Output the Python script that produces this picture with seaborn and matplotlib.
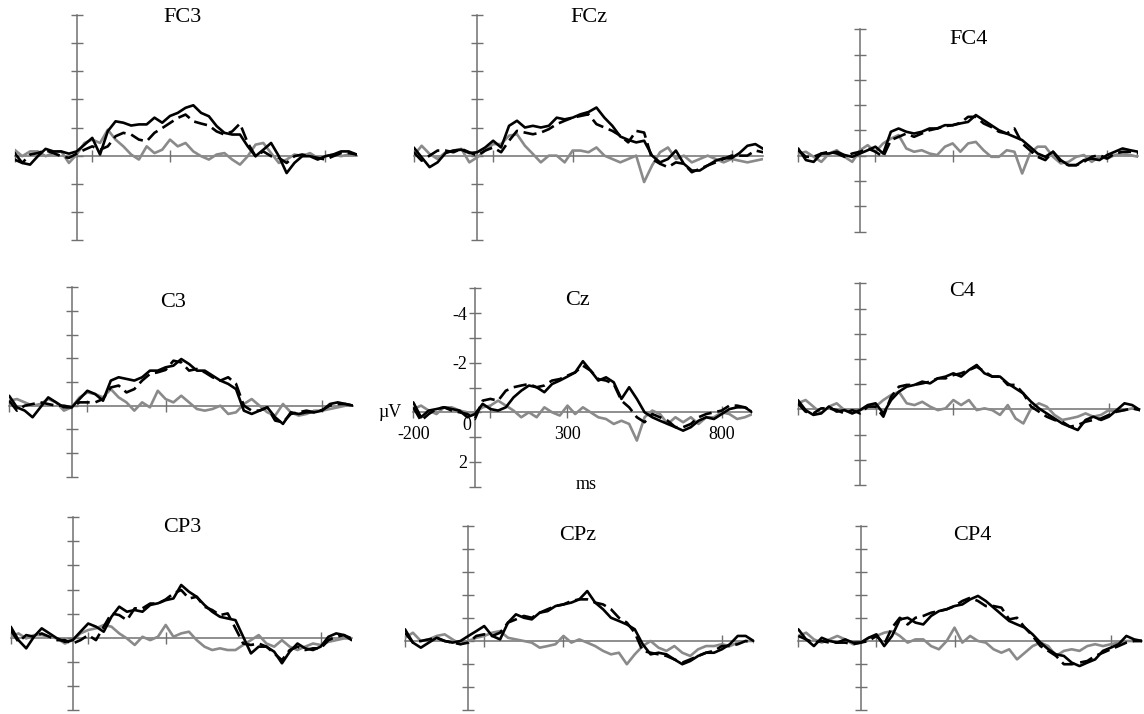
import matplotlib
matplotlib.use("Agg")
import matplotlib.pyplot as plt
import numpy as np
import pandas as pd
import seaborn as sns

# ---------------- data (µV, negative plotted upward) ----------------
times = list(range(-200, 901, 25))
electrodes = ["FC3", "FCz", "FC4", "C3", "Cz", "C4", "CP3", "CPz", "CP4"]

fc3_solid = [-0.10, 0.26, 0.32, 0.02, -0.24, -0.15, -0.15, -0.07, -0.15, -0.39, -0.63, -0.04, -0.87, -1.22, -1.17, -1.07, -1.11, -1.11, -1.35, -1.17, -1.41, -1.52, -1.70, -1.79, -1.52, -1.40, -1.05, -0.81, -0.75, -0.75, -0.33, 0.02, -0.21, -0.45, 0.02, 0.62, 0.26, 0.02, 0.02, 0.14, 0.02, -0.04, -0.15, -0.15, -0.04]
fc3_dashed = [0.14, 0.26, -0.04, -0.09, -0.19, -0.09, 0.02, 0.08, -0.07, -0.21, -0.33, -0.21, -0.33, -0.69, -0.81, -0.75, -0.57, -0.51, -0.81, -0.98, -1.16, -1.34, -1.46, -1.22, -1.14, -1.07, -0.86, -0.75, -0.86, -1.14, -0.45, 0.02, -0.15, 0.02, 0.08, 0.26, 0.02, -0.04, 0.02, 0.08, 0.14, 0.02, -0.09, -0.09, -0.04]
fc3_gray = [-0.21, 0.02, -0.15, -0.15, 0.02, -0.09, -0.15, 0.26, -0.04, -0.45, -0.57, -0.45, -0.92, -0.57, -0.33, -0.04, 0.14, -0.33, -0.09, -0.21, -0.57, -0.33, -0.45, -0.15, 0.02, 0.14, -0.04, -0.09, 0.14, 0.32, 0.02, -0.39, -0.45, -0.09, 0.26, 0.14, -0.04, 0.02, -0.09, 0.08, 0.02, -0.04, 0.02, -0.04, -0.04]

fcz_solid = [-0.29, 0.06, 0.41, 0.24, -0.09, -0.18, -0.21, -0.09, -0.12, -0.29, -0.53, -0.29, -1.06, -1.24, -1.00, -1.06, -1.00, -1.06, -1.35, -1.29, -1.35, -1.47, -1.55, -1.71, -1.35, -1.06, -0.68, -0.56, -0.47, -0.53, 0.00, 0.24, 0.12, -0.18, 0.29, 0.53, 0.53, 0.35, 0.18, 0.09, 0.09, -0.09, -0.35, -0.41, -0.24]
fcz_dashed = [-0.12, 0.18, 0.00, -0.18, -0.18, -0.12, -0.24, -0.12, 0.00, -0.18, -0.29, -0.12, -0.53, -0.88, -0.82, -0.76, -0.82, -0.94, -1.12, -1.24, -1.35, -1.41, -1.47, -1.12, -1.00, -0.88, -0.71, -0.47, -0.88, -0.82, 0.12, 0.29, 0.41, 0.24, 0.29, 0.59, 0.47, 0.35, 0.24, 0.12, 0.00, 0.00, 0.00, -0.18, -0.12]
fcz_gray = [0.00, -0.35, -0.06, 0.12, -0.12, -0.18, -0.24, 0.24, 0.06, -0.18, -0.41, -0.41, -0.71, -0.76, -0.35, -0.06, 0.24, 0.00, 0.00, 0.24, -0.18, -0.18, -0.12, -0.29, 0.00, 0.12, 0.24, 0.12, 0.00, 0.94, 0.35, -0.12, -0.29, 0.12, 0.00, 0.24, 0.12, 0.00, 0.12, 0.24, 0.12, 0.18, 0.24, 0.18, 0.12]

fc4_solid = [-0.29, 0.17, 0.24, -0.09, -0.09, -0.16, -0.03, 0.04, -0.09, -0.22, -0.36, -0.09, -0.95, -1.08, -0.95, -0.88, -0.95, -1.08, -1.08, -1.21, -1.21, -1.28, -1.34, -1.61, -1.41, -1.21, -1.01, -0.88, -0.75, -0.62, -0.36, -0.09, 0.04, -0.16, 0.17, 0.37, 0.37, 0.17, 0.11, 0.17, -0.03, -0.16, -0.29, -0.22, -0.16]
fc4_dashed = [-0.22, 0.04, 0.04, -0.09, -0.16, -0.09, 0.04, -0.09, -0.16, -0.29, -0.16, 0.04, -0.62, -0.75, -0.88, -0.75, -0.88, -1.01, -1.08, -1.17, -1.21, -1.30, -1.54, -1.54, -1.28, -1.14, -0.95, -0.88, -1.08, -0.49, -0.22, 0.04, 0.17, -0.16, 0.24, 0.37, 0.37, 0.24, 0.04, -0.03, 0.11, -0.09, -0.16, -0.16, -0.09]
fc4_gray = [-0.09, -0.16, 0.04, 0.24, -0.09, -0.22, 0.04, 0.24, -0.22, -0.42, -0.16, -0.49, -0.68, -0.82, -0.29, -0.16, -0.22, -0.09, -0.03, -0.36, -0.49, -0.16, -0.49, -0.55, -0.22, 0.04, 0.04, -0.22, -0.16, 0.70, -0.09, -0.36, -0.36, 0.04, 0.30, 0.24, 0.04, -0.03, 0.24, 0.04, 0.11, -0.03, -0.09, -0.03, 0.04]

c3_solid = [-0.42, 0.07, 0.21, 0.49, 0.07, -0.35, -0.14, 0.07, 0.07, -0.28, -0.63, -0.49, -0.21, -1.06, -1.20, -1.13, -1.06, -1.20, -1.48, -1.48, -1.62, -1.69, -1.97, -1.76, -1.48, -1.48, -1.27, -1.06, -0.92, -0.70, 0.21, 0.35, 0.21, 0.07, 0.49, 0.77, 0.28, 0.35, 0.28, 0.28, 0.21, -0.07, -0.14, -0.07, 0.00]
c3_dashed = [-0.21, 0.21, 0.00, -0.07, -0.14, -0.07, 0.00, 0.00, 0.07, -0.14, -0.14, -0.14, -0.28, -0.77, -0.85, -0.56, -0.70, -1.06, -1.34, -1.41, -1.51, -1.90, -1.83, -1.48, -1.55, -1.41, -1.20, -1.06, -1.20, -0.92, 0.00, 0.21, 0.21, 0.07, 0.63, 0.70, 0.35, 0.28, 0.21, 0.28, 0.18, 0.00, -0.07, -0.07, 0.00]
c3_gray = [-0.21, -0.28, -0.14, 0.00, -0.07, -0.28, -0.14, 0.21, 0.07, -0.35, -0.56, -0.49, -0.35, -0.70, -0.35, -0.14, 0.21, -0.14, 0.07, -0.63, -0.28, -0.14, -0.42, -0.14, 0.14, 0.21, 0.14, 0.00, 0.35, 0.28, -0.07, -0.28, 0.00, 0.28, 0.42, -0.07, 0.28, 0.42, 0.35, 0.21, 0.21, 0.14, 0.07, 0.00, 0.00]

cz_solid = [-0.40, 0.20, -0.07, -0.13, -0.20, -0.13, -0.07, 0.20, 0.07, -0.34, -0.13, -0.07, -0.20, -0.60, -0.87, -1.08, -1.01, -0.81, -1.14, -1.28, -1.44, -1.61, -2.06, -1.68, -1.28, -1.41, -1.21, -0.54, -1.01, -0.54, 0.00, 0.20, 0.34, 0.47, 0.60, 0.74, 0.60, 0.34, 0.20, 0.27, 0.07, -0.13, -0.20, -0.20, 0.00]
cz_dashed = [-0.20, 0.34, 0.07, -0.13, -0.20, -0.07, 0.00, 0.07, 0.27, -0.47, -0.54, -0.47, -0.87, -1.01, -1.08, -1.14, -1.01, -1.08, -1.28, -1.34, -1.48, -1.61, -1.88, -1.68, -1.34, -1.28, -1.14, -0.47, -0.20, 0.20, 0.40, 0.07, 0.20, 0.34, 0.60, 0.60, 0.47, 0.20, 0.07, 0.00, -0.07, -0.27, -0.27, -0.20, -0.07]
cz_gray = [-0.13, -0.27, -0.07, 0.07, -0.20, -0.20, -0.07, 0.00, 0.00, -0.20, -0.27, -0.47, -0.27, -0.07, 0.20, 0.00, 0.20, -0.20, 0.00, 0.13, -0.27, 0.07, -0.20, 0.00, 0.20, 0.27, 0.47, 0.34, 0.47, 1.14, 0.20, -0.07, 0.07, 0.47, 0.20, 0.40, 0.20, 0.47, 0.20, 0.20, 0.00, 0.07, 0.27, 0.20, 0.07]

c4_solid = [-0.37, 0.03, 0.22, 0.16, -0.11, 0.09, 0.03, 0.16, 0.03, -0.17, -0.24, 0.16, -0.37, -0.70, -0.90, -0.97, -1.10, -1.03, -1.23, -1.30, -1.43, -1.30, -1.56, -1.76, -1.43, -1.30, -1.30, -1.03, -0.83, -0.63, -0.30, -0.04, 0.16, 0.36, 0.56, 0.69, 0.82, 0.42, 0.29, 0.42, 0.29, 0.03, -0.24, -0.17, 0.03]
c4_dashed = [-0.24, 0.09, 0.16, -0.04, -0.04, 0.03, 0.16, 0.03, 0.16, -0.11, -0.11, 0.29, -0.50, -0.90, -0.97, -0.97, -1.03, -1.10, -1.23, -1.23, -1.36, -1.43, -1.56, -1.69, -1.50, -1.30, -1.30, -0.97, -0.97, -0.63, -0.11, 0.09, 0.29, 0.42, 0.49, 0.69, 0.62, 0.49, 0.42, 0.36, 0.22, 0.09, 0.03, -0.04, 0.03]
c4_gray = [-0.24, -0.37, -0.11, 0.16, -0.11, -0.24, 0.03, 0.16, 0.03, -0.11, -0.11, -0.37, -0.57, -0.70, -0.24, -0.17, -0.30, -0.11, 0.03, -0.04, -0.37, -0.17, -0.37, 0.03, -0.04, 0.03, 0.22, -0.17, 0.36, 0.56, -0.04, -0.24, -0.11, 0.22, 0.42, 0.36, 0.29, 0.16, 0.29, 0.22, 0.03, 0.09, 0.03, -0.04, 0.03]

cp3_solid = [-0.46, 0.10, 0.44, -0.04, -0.39, -0.18, 0.03, 0.17, 0.10, -0.25, -0.59, -0.46, -0.25, -0.87, -1.29, -1.08, -1.15, -1.08, -1.36, -1.43, -1.56, -1.63, -2.19, -1.91, -1.70, -1.36, -1.08, -0.87, -0.80, -0.73, -0.04, 0.65, 0.37, 0.37, 0.58, 1.06, 0.58, 0.24, 0.44, 0.51, 0.37, -0.04, -0.18, -0.11, 0.10]
cp3_dashed = [-0.32, 0.17, -0.11, -0.04, -0.18, -0.04, 0.10, 0.10, 0.24, 0.10, -0.11, 0.10, -0.46, -1.01, -0.94, -0.73, -1.22, -1.22, -1.42, -1.42, -1.59, -1.84, -1.98, -1.63, -1.70, -1.29, -1.15, -0.94, -1.01, -0.39, 0.24, 0.30, 0.24, 0.37, 0.65, 0.93, 0.51, 0.37, 0.51, 0.44, 0.44, 0.10, -0.04, -0.11, 0.03]
cp3_gray = [-0.04, -0.18, 0.03, -0.11, -0.11, -0.04, 0.03, 0.24, 0.10, -0.18, -0.32, -0.39, -0.53, -0.46, -0.18, 0.03, 0.30, -0.04, 0.10, -0.04, -0.53, -0.04, -0.18, -0.25, 0.10, 0.37, 0.51, 0.44, 0.51, 0.51, 0.30, 0.10, -0.11, 0.24, 0.37, 0.10, 0.37, 0.51, 0.37, 0.24, 0.30, 0.17, 0.10, 0.03, 0.03]

cpz_solid = [-0.51, 0.07, 0.29, 0.07, -0.14, 0.00, 0.07, 0.00, -0.22, -0.43, -0.65, -0.22, -0.07, -0.80, -1.16, -1.01, -0.94, -1.23, -1.30, -1.52, -1.59, -1.67, -1.81, -2.17, -1.67, -1.38, -1.01, -0.87, -0.72, -0.51, 0.14, 0.58, 0.51, 0.58, 0.80, 1.01, 0.87, 0.65, 0.51, 0.51, 0.36, 0.14, -0.22, -0.22, 0.00]
cpz_dashed = [-0.36, 0.07, 0.00, -0.07, -0.14, 0.00, 0.07, 0.14, 0.07, -0.22, -0.29, -0.22, -0.36, -0.80, -0.94, -1.09, -1.01, -1.23, -1.38, -1.52, -1.59, -1.74, -1.81, -1.81, -1.67, -1.59, -1.38, -1.01, -0.80, -0.36, 0.43, 0.51, 0.58, 0.65, 0.80, 0.94, 0.80, 0.65, 0.51, 0.43, 0.22, 0.22, 0.14, 0.00, 0.07]
cpz_gray = [-0.14, -0.36, 0.00, -0.07, -0.22, -0.29, -0.07, 0.14, 0.00, -0.14, -0.22, -0.36, -0.43, -0.14, -0.07, 0.00, 0.07, 0.29, 0.22, 0.14, -0.22, 0.07, -0.07, 0.07, 0.22, 0.43, 0.58, 0.51, 1.01, 0.58, 0.22, 0.00, 0.29, 0.43, 0.22, 0.51, 0.65, 0.36, 0.22, 0.22, 0.14, 0.22, 0.07, 0.00, 0.00]

cp4_solid = [-0.51, -0.07, 0.22, -0.14, 0.00, 0.07, -0.07, 0.07, 0.07, -0.14, -0.29, 0.22, -0.22, -0.94, -1.01, -0.80, -0.72, -1.09, -1.30, -1.38, -1.52, -1.59, -1.81, -1.96, -1.74, -1.45, -1.16, -0.87, -0.72, -0.58, -0.29, 0.07, 0.36, 0.58, 0.65, 0.94, 1.09, 0.94, 0.80, 0.43, 0.29, 0.14, -0.22, -0.07, 0.00]
cp4_dashed = [-0.22, -0.07, 0.07, 0.00, 0.07, 0.07, 0.07, 0.14, 0.07, 0.00, -0.22, 0.14, -0.58, -1.01, -0.72, -1.01, -1.09, -1.23, -1.30, -1.38, -1.52, -1.74, -1.88, -1.74, -1.52, -1.52, -1.45, -0.94, -1.01, -0.58, -0.22, 0.22, 0.43, 0.65, 1.01, 1.01, 0.94, 0.87, 0.65, 0.51, 0.36, 0.22, 0.07, 0.00, 0.00]
cp4_gray = [-0.22, -0.36, -0.07, 0.07, -0.07, -0.22, -0.07, 0.14, 0.07, -0.14, -0.22, -0.36, -0.43, -0.22, 0.07, -0.07, -0.07, 0.22, 0.36, 0.00, -0.58, 0.07, -0.22, 0.00, 0.07, 0.36, 0.51, 0.36, 0.80, 0.51, 0.22, 0.07, 0.22, 0.65, 0.43, 0.36, 0.43, 0.22, 0.14, 0.22, 0.14, 0.07, 0.00, 0.00, 0.00]

series = {
    "FC3": (fc3_solid, fc3_dashed, fc3_gray),
    "FCz": (fcz_solid, fcz_dashed, fcz_gray),
    "FC4": (fc4_solid, fc4_dashed, fc4_gray),
    "C3": (c3_solid, c3_dashed, c3_gray),
    "Cz": (cz_solid, cz_dashed, cz_gray),
    "C4": (c4_solid, c4_dashed, c4_gray),
    "CP3": (cp3_solid, cp3_dashed, cp3_gray),
    "CPz": (cpz_solid, cpz_dashed, cpz_gray),
    "CP4": (cp4_solid, cp4_dashed, cp4_gray),
}

y_ticks = [-5, -4, -3, -2, -1, 0, 1, 2, 3]
cz_y_labels = {-4: "-4", -2: "-2", 2: "2"}
x_ticks = [-200, 50, 300, 800]
cz_x_labels = ["-200", "0", "300", "800"]
cz_x_label_pos = [-200, -25, 300, 800]

# ---------------- layout (pixels: left, right, top, bottom; title centre) ----------------
W, H = 1144, 714
layout = {
    "FC3": (14.5, 356.6, 15.0, 240.0, 183, 18),
    "FCz": (413.7, 763.3, 15.0, 240.0, 589, 18),
    "FC4": (798.2, 1138.0, 29.3, 231.7, 969, 39),
    "C3": (9.1, 353.4, 287.3, 476.7, 173, 302),
    "Cz": (413.3, 752.5, 288.3, 486.7, 577, 300),
    "C4": (797.8, 1140.0, 283.3, 485.0, 962, 292),
    "CP3": (10.7, 351.7, 517.3, 710.0, 182, 527),
    "CPz": (405.0, 753.6, 526.0, 710.0, 578, 535),
    "CP4": (798.3, 1142.0, 526.0, 710.0, 972, 535),
}

sns.set_style("white")
plt.rcParams["font.family"] = ["Liberation Serif", "DejaVu Serif"]
plt.rcParams["axes.facecolor"] = "none"
plt.rcParams["text.color"] = "black"
plt.rcParams["xtick.color"] = "black"
plt.rcParams["ytick.color"] = "black"

AXC = "#707070"
fig = plt.figure(figsize=(W / 100, H / 100), dpi=100)
fig.patch.set_facecolor("white")

palette = {"gray": "#8a8a8a", "dashed": "#000000", "solid": "#000000"}
dashes = {"gray": "", "dashed": (5, 2.2), "solid": ""}
order = ["gray", "dashed", "solid"]

for name in electrodes:
    l, r, t, b, tx, ty = layout[name]
    ax = fig.add_axes([l / W, 1 - b / H, (r - l) / W, (b - t) / H])
    solid, dashed, gray = series[name]
    df = pd.DataFrame({
        "time": times * 3,
        "uV": solid + dashed + gray,
        "cond": ["solid"] * len(times) + ["dashed"] * len(times) + ["gray"] * len(times),
    })
    sns.lineplot(data=df, x="time", y="uV", hue="cond", style="cond",
                 hue_order=order, style_order=order, palette=palette,
                 dashes=dashes, linewidth=1.9, legend=False, ax=ax,
                 estimator=None, sort=False)
    ax.set_xlim(-200, 900)
    ax.set_ylim(3, -5)
    for s in ["top", "right"]:
        ax.spines[s].set_visible(False)
    ax.spines["left"].set_position(("data", 0))
    ax.spines["bottom"].set_position(("data", 0))
    for s in ["left", "bottom"]:
        ax.spines[s].set_color(AXC)
        ax.spines[s].set_linewidth(1.1)
        ax.spines[s].set_zorder(0.5)
    ax.set_yticks(y_ticks)
    ax.set_xticks(x_ticks)
    ax.tick_params(axis="both", direction="inout", color=AXC, width=1.0,
                   left=True, bottom=True, labelcolor="black")
    ax.tick_params(axis="y", length=9, pad=1, labelsize=13)
    ax.tick_params(axis="x", length=8)
    ax.set_xticklabels([])
    if name == "Cz":
        ax.set_yticklabels([cz_y_labels.get(v, "") for v in y_ticks])
        for lab, xp in zip(cz_x_labels, cz_x_label_pos):
            yoff = 0.55 if lab == "0" else 0.9
            ax.text(xp, yoff, lab, ha="center", va="center", fontsize=13,
                    color="black", clip_on=False)
        ax.text(-275, 0.0, "µV", ha="center", va="center", fontsize=13,
                color="black", clip_on=False)
        ax.text(360, 2.9, "ms", ha="center", va="center", fontsize=13,
                color="black", clip_on=False)
    else:
        ax.set_yticklabels([])
    ax.set_xlabel("")
    ax.set_ylabel("")
    fig.text(tx / W, 1 - ty / H, name, ha="center", va="center", fontsize=16,
             color="black")

fig.savefig("out.png", dpi=100, facecolor="white")
